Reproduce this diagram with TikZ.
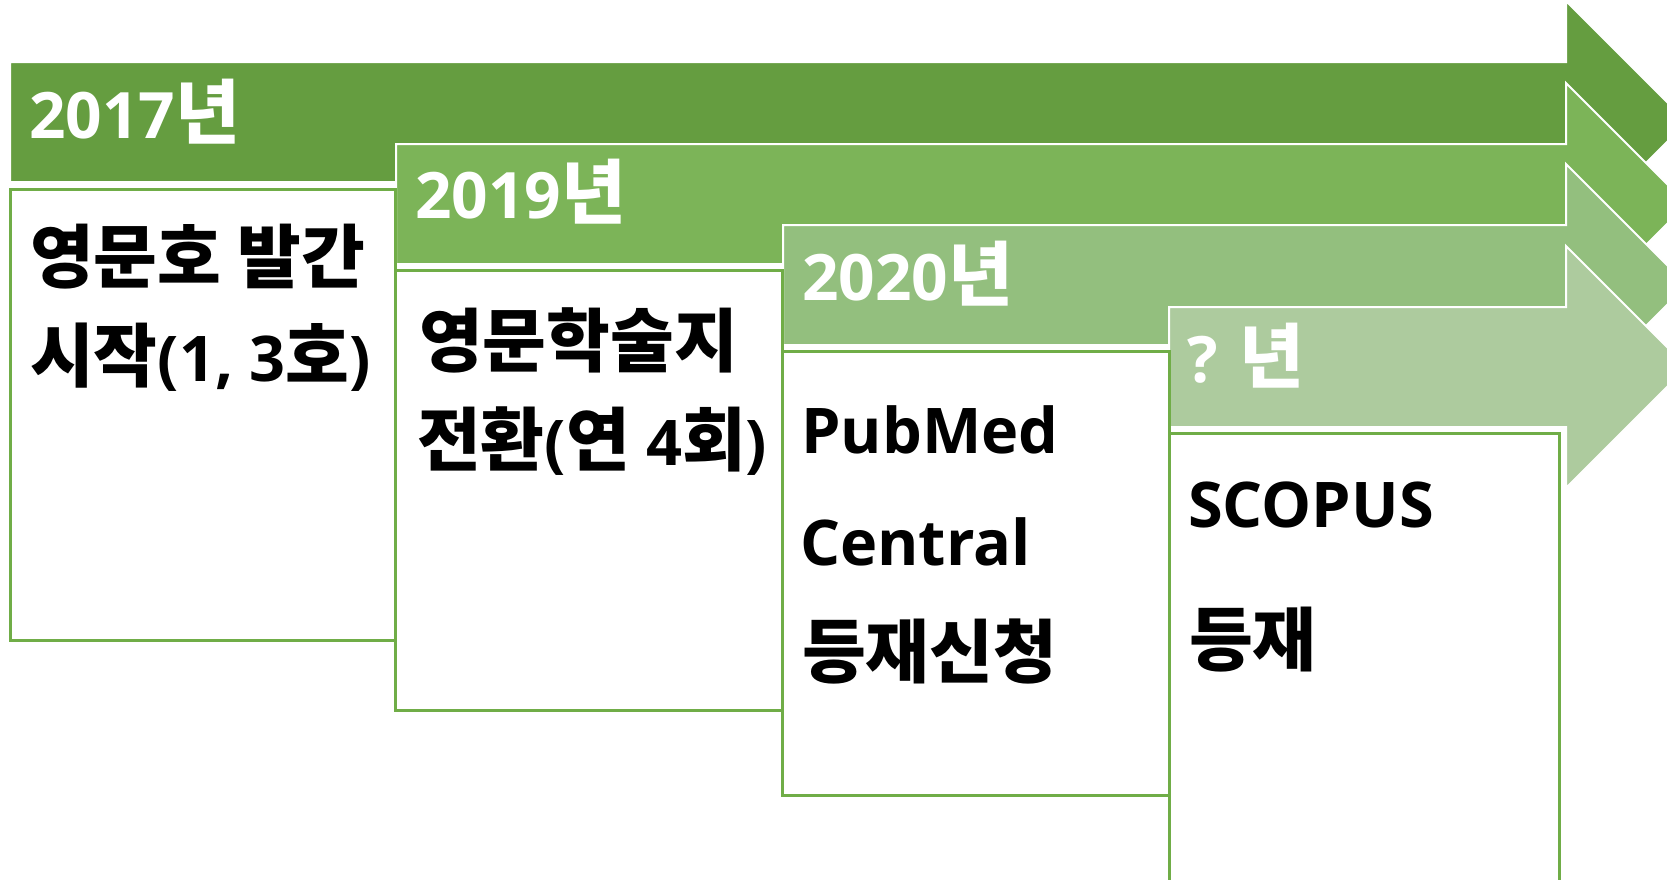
\documentclass[tikz,border=0pt]{standalone}
\usepackage{fontspec}
\setmainfont{Open Sans}
\newfontfamily\ko{Noto Sans CJK KR}[Scale=1.1]
\newcommand\K[1]{{\ko\bfseries #1}}
\definecolor{gA}{HTML}{659D40}
\definecolor{gB}{HTML}{7CB458}
\definecolor{gC}{HTML}{93BF7E}
\definecolor{gD}{HTML}{ADCB9E}
\definecolor{bord}{HTML}{70AD47}
\tikzset{
  arrowshape/.style={draw=white, line width=2pt, line join=miter},
  boxshape/.style={draw=bord, line width=3pt, fill=white},
  yeartext/.style={text=white, font=\fontsize{64}{64}\selectfont\bfseries, anchor=base west, inner sep=0pt},
  bodytext/.style={text=black, font=\fontsize{63}{63}\selectfont\bfseries, anchor=base west, inner sep=0pt}
}
\newcommand\timearrow[3]{%
  \path[arrowshape, fill=#3] (#1,#2) -- (1566,#2) -- (1566,{#2-61}) -- (1687,{#2+60})
    -- (1566,{#2+181}) -- (1566,{#2+120}) -- (#1,{#2+120}) -- cycle;}
\begin{document}
\begin{tikzpicture}[x=1pt,y=-1pt]
\useasboundingbox (0,0) rectangle (1667,879);
\clip (0,0) rectangle (1667,879);
\fill[white] (0,0) rectangle (1667,879);
% arrows
\timearrow{10}{62}{gA}
\timearrow{396}{144}{gB}
\timearrow{783}{225}{gC}
\timearrow{1169}{307}{gD}
% boxes
\draw[boxshape] (10,189) rectangle (395,640);
\draw[boxshape] (395,270) rectangle (782,710);
\draw[boxshape] (782,351) rectangle (1169,795);
\draw[boxshape] (1169,433) rectangle (1559,900);
% year labels
\node[yeartext] (y1) at (29,138) {2017\K{년}};
\node[yeartext] (y2) at (415,218) {2019\K{년}};
\node[yeartext] (y3) at (802,300) {2020\K{년}};
\node[yeartext] (y4) at (1187,382) {? \K{년}};
% box texts
\node[bodytext] (a1) at (30,282) {\K{영문호 발간}};
\node[bodytext] (a2) at (30,381) {\K{시작}(1, 3\K{호})};
\node[bodytext] (b1) at (419,366) {\K{영문학술지}};
\node[bodytext] (b2) at (417,465) {\K{전환}(\K{연} 4\K{회})};
\node[bodytext] (c1) at (801,453) {PubMed};
\node[bodytext] (c2) at (800,565) {Central};
\node[bodytext] (c3) at (802,677) {\K{등재신청}};
\node[bodytext] (d1) at (1188,527) {SCOPUS};
\node[bodytext] (d2) at (1189,665) {\K{등재}};
\end{tikzpicture}
\end{document}
